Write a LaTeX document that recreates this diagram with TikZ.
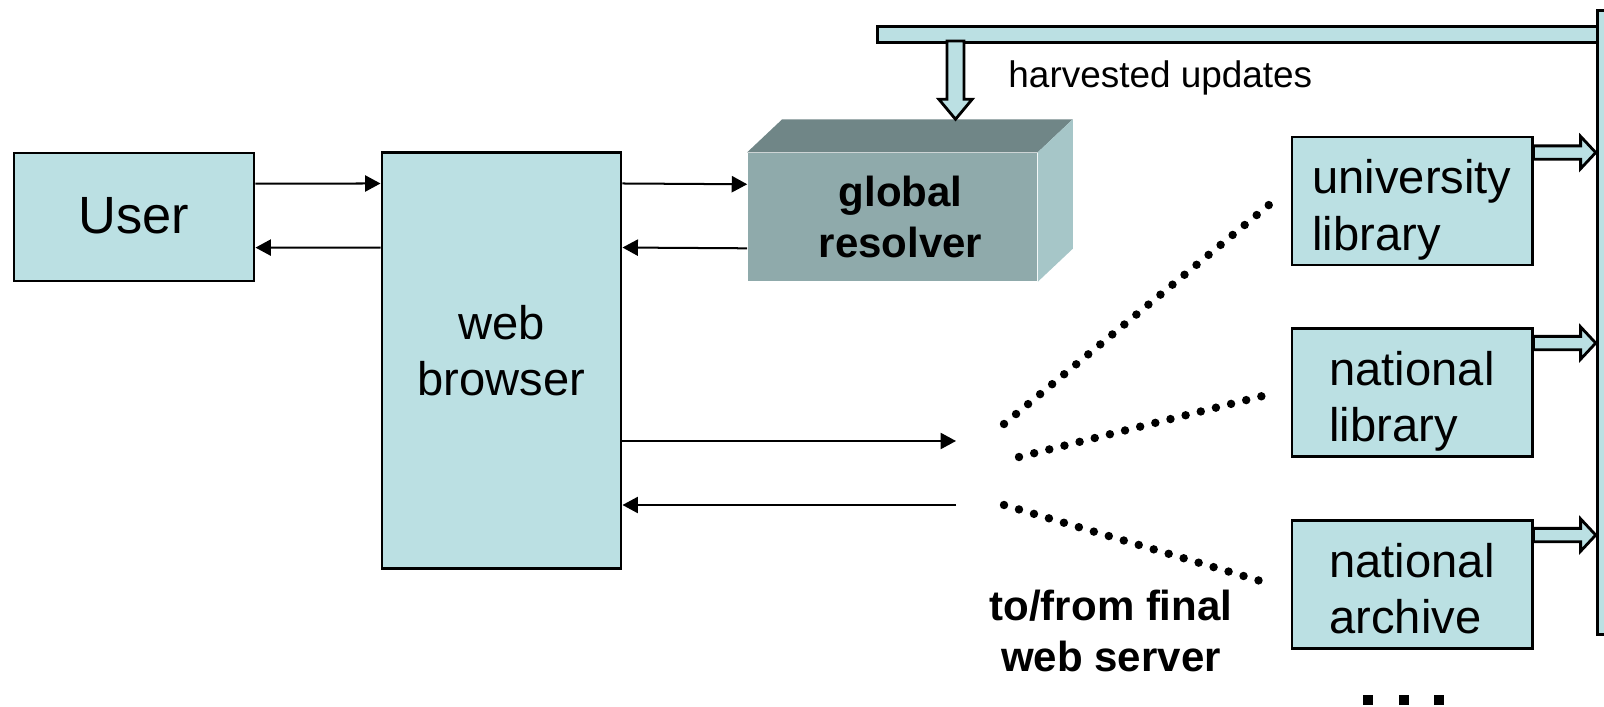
\documentclass[tikz,border=0pt]{standalone}
\usepackage{fontspec}
\setmainfont{Liberation Sans}
\usepackage{xcolor}
\usetikzlibrary{arrows.meta,calc}

\definecolor{boxcyan}{HTML}{BBE0E3}
\definecolor{resfront}{HTML}{8FAAAB}
\definecolor{restop}{HTML}{708687}
\definecolor{resside}{HTML}{A6C6C8}

% wide arrows, drawn as outlines
\newcommand{\blockright}[2]{%
  \draw[blockarrow] let \p1=(#1), \p2=(#2) in
    (\x1,\y1+1.9pt) -- (\x2-4.3pt,\y1+1.9pt) -- (\x2-4.3pt,\y1+4.6pt) -- (\x2,\y1)
    -- (\x2-4.3pt,\y1-4.6pt) -- (\x2-4.3pt,\y1-1.9pt) -- (\x1,\y1-1.9pt) -- cycle;}
\newcommand{\blockdown}[2]{%
  \draw[blockarrow] let \p1=(#1), \p2=(#2) in
    (\x1-2.4pt,\y1) -- (\x1-2.4pt,\y2+5.7pt) -- (\x1-4.75pt,\y2+5.7pt) -- (\x1,\y2)
    -- (\x1+4.75pt,\y2+5.7pt) -- (\x1+2.4pt,\y2+5.7pt) -- (\x1+2.4pt,\y1) -- cycle;}

\begin{document}
\begin{tikzpicture}[x=0.01cm, y=-0.01cm,
        box/.style={draw, line width=0.8pt, fill=boxcyan, inner sep=0pt,
                    minimum width=2.4cm, minimum height=1.28cm,
                    font=\fontsize{13.4}{16}\selectfont},
        site/.style={box, align=left, text height=0.98cm, text depth=0pt},
        bar/.style={draw, line width=0.8pt, fill=boxcyan, inner sep=0pt, anchor=north west},
        conn/.style={line width=0.57pt, -{Triangle[length=4.4pt,width=4.6pt]}},
        dots/.style={line width=2.4pt, line cap=round, dash pattern=on 0pt off 4.44pt},
        blockarrow/.style={line width=0.8pt, fill=boxcyan},
        bold/.style={font=\fontsize{11.95}{14.5}\selectfont\bfseries, align=center}
    ]

    \useasboundingbox (0,0) rectangle (1604,707);

    % update channel
    \node[bar, minimum width=7.2cm, minimum height=0.16cm] (harvbar) at (876,25) {};
    \node[bar, minimum width=0.4cm, minimum height=6.24cm] (store) at (1595.7,9) {};

    \node[box, font=\fontsize{14.9}{17.8}\selectfont, text depth=0.03cm] (user) at (134,217) {User};
    \node[box, minimum width=2.39cm, minimum height=4.15cm, align=center,
          text height=0.7cm, text depth=0pt] (browser) at (501.5,360.5) {web\\browser};

    % resolver as a block
    \node[fill=resfront, inner sep=0pt, minimum width=2.89cm, minimum height=1.28cm] (resolver) at (892.5,217) {};
    \fill[restop] (resolver.north west) -- (resolver.north east) -- ++(35,-33) -- ([shift={(35,-33)}]resolver.north west) -- cycle;
    \fill[resside] (resolver.north east) -- ++(35,-33) -- ([shift={(35,-33)}]resolver.south east) -- (resolver.south east) -- cycle;
    \node[bold] (resolvertext) at ([xshift=0.08cm]resolver.center) {global\\resolver};
    \coordinate (rtop) at ([yshift=0.33cm]resolver.north);

    \node[site] (univ) at (1412,201) {university\\library};
    \node[site] (natlib) at (1412,392.5) {national\\library};
    \node[site] (archive) at (1412,584.5) {national\\archive};

    \coordinate (harvtop) at (955.5,41);
    \blockdown{harvtop}{harvtop |- rtop}
    \node[anchor=west, font=\fontsize{10.5}{12.6}\selectfont] (harvlabel) at (996,78) {harvested updates};

    \blockright{[yshift=-0.17cm]univ.north east}{store.west}
    \blockright{[yshift=-0.16cm]natlib.north east}{store.west}
    \blockright{[yshift=-0.16cm]archive.north east}{store.west}

    \draw[conn] ([yshift=-0.32cm]user.north east) -- ([yshift=-0.32cm]browser.north west);
    \draw[conn] ([yshift=-0.96cm]browser.north west) -- ([yshift=-0.96cm]user.north east);
    \draw[conn] ([yshift=-0.32cm]browser.north east) -- ([yshift=-0.32cm]resolver.north west);
    \draw[conn] ([yshift=-0.96cm]resolver.north west) -- ([yshift=-0.96cm]browser.north east);

    % to the final server
    \coordinate (srvin) at (956,441);
    \coordinate (srvout) at (956,505);
    \draw[conn] (browser.east |- srvin) -- (srvin);
    \draw[conn] (srvout) -- (browser.east |- srvout);

    \coordinate (fan1) at (1004,424);
    \coordinate (fan2) at (1019,457);
    \coordinate (fan3) at (1004,505);
    \draw[dots] (fan1) -- ([xshift=-0.12cm,yshift=0.04cm]univ.west);
    \draw[dots] (fan2) -- ([xshift=-0.22cm,yshift=-0.02cm]natlib.west);
    \draw[dots] (fan3) -- ([xshift=-0.25cm,yshift=0.02cm]archive.west);

    \node[bold] (serverlabel) at (1111,631) {to/from final\\web server};

    \foreach \x in {1368,1404,1439}
        \fill (\x-5,695) rectangle (\x+5,705);
\end{tikzpicture}
\end{document}
